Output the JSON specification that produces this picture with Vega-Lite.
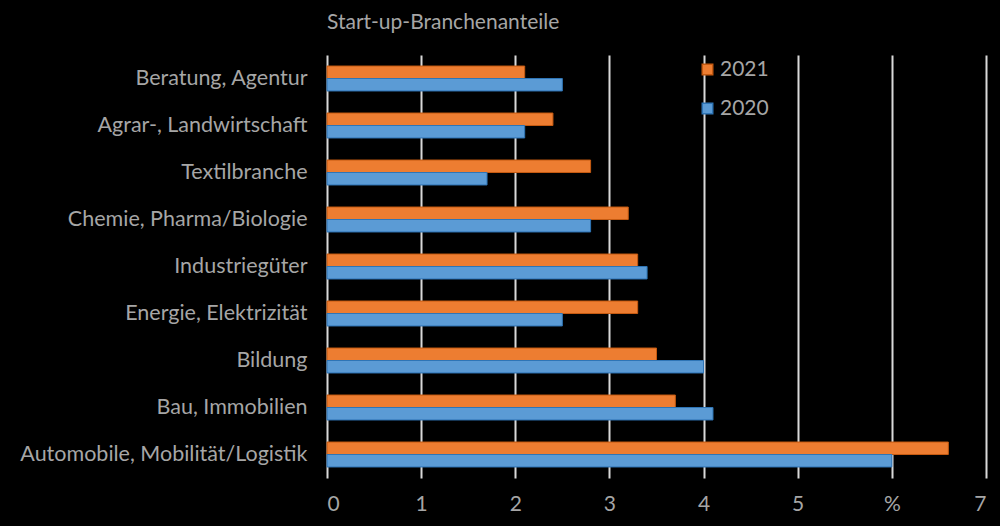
{
  "$schema": "https://vega.github.io/schema/vega-lite/v6.json",
  "description": "Start-up-Branchenanteile 2021 vs 2020",
  "autosize": {"type": "none"},
  "width": 659,
  "height": 423,
  "padding": {"left": 327, "top": 55, "right": 14, "bottom": 48},
  "background": "#000000",
  "title": {
    "text": "Start-up-Branchenanteile",
    "anchor": "start",
    "frame": "group",
    "font": "Lato",
    "fontSize": 21,
    "fontWeight": "normal",
    "color": "#a6a6a6",
    "offset": 22
  },
  "data": {
    "values": [
      {"branche": "Beratung, Agentur", "jahr": "2021", "anteil": 2.1},
      {"branche": "Beratung, Agentur", "jahr": "2020", "anteil": 2.5},
      {"branche": "Agrar-, Landwirtschaft", "jahr": "2021", "anteil": 2.4},
      {"branche": "Agrar-, Landwirtschaft", "jahr": "2020", "anteil": 2.1},
      {"branche": "Textilbranche", "jahr": "2021", "anteil": 2.8},
      {"branche": "Textilbranche", "jahr": "2020", "anteil": 1.7},
      {"branche": "Chemie, Pharma/Biologie", "jahr": "2021", "anteil": 3.2},
      {"branche": "Chemie, Pharma/Biologie", "jahr": "2020", "anteil": 2.8},
      {"branche": "Industriegüter", "jahr": "2021", "anteil": 3.3},
      {"branche": "Industriegüter", "jahr": "2020", "anteil": 3.4},
      {"branche": "Energie, Elektrizität", "jahr": "2021", "anteil": 3.3},
      {"branche": "Energie, Elektrizität", "jahr": "2020", "anteil": 2.5},
      {"branche": "Bildung", "jahr": "2021", "anteil": 3.5},
      {"branche": "Bildung", "jahr": "2020", "anteil": 4.0},
      {"branche": "Bau, Immobilien", "jahr": "2021", "anteil": 3.7},
      {"branche": "Bau, Immobilien", "jahr": "2020", "anteil": 4.1},
      {"branche": "Automobile, Mobilität/Logistik", "jahr": "2021", "anteil": 6.6},
      {"branche": "Automobile, Mobilität/Logistik", "jahr": "2020", "anteil": 6.0}
    ]
  },
  "mark": {"type": "bar", "strokeWidth": 1},
  "encoding": {
    "y": {
      "field": "branche",
      "type": "nominal",
      "sort": null,
      "title": null,
      "scale": {"paddingInner": 0.47, "paddingOuter": 0.235},
      "axis": {
        "ticks": false,
        "domain": false,
        "labelPadding": 20,
        "labelFontSize": 21.5,
        "labelFont": "Lato",
        "labelColor": "#a6a6a6",
        "labelLimit": 400
      }
    },
    "yOffset": {"field": "jahr", "type": "nominal", "sort": ["2021", "2020"]},
    "x": {
      "field": "anteil",
      "type": "quantitative",
      "title": null,
      "scale": {"domain": [0, 7], "nice": false},
      "axis": {
        "values": [0, 1, 2, 3, 4, 5, 6, 7],
        "labelExpr": "datum.value == 6 ? '%' : datum.label",
        "ticks": false,
        "domain": false,
        "grid": true,
        "gridColor": "#d9d9d9",
        "gridWidth": 2,
        "labelPadding": 15,
        "labelFontSize": 21,
        "labelFont": "Lato",
        "labelColor": "#a6a6a6"
      }
    },
    "color": {
      "field": "jahr",
      "type": "nominal",
      "sort": ["2021", "2020"],
      "scale": {"domain": ["2021", "2020"], "range": ["#ed7d31", "#5b9bd5"]},
      "legend": {
        "title": null,
        "orient": "none",
        "legendX": 370,
        "legendY": 4,
        "symbolType": "square",
        "symbolSize": 110,
        "symbolOpacity": 1,
        "rowPadding": 17,
        "labelFontSize": 21,
        "labelFont": "Lato",
        "labelColor": "#a6a6a6",
        "labelOffset": 2
      }
    },
    "stroke": {
      "field": "jahr",
      "type": "nominal",
      "scale": {"domain": ["2021", "2020"], "range": ["#c55a11", "#2e75b6"]},
      "legend": null
    }
  },
  "config": {
    "view": {"stroke": null}
  }
}
